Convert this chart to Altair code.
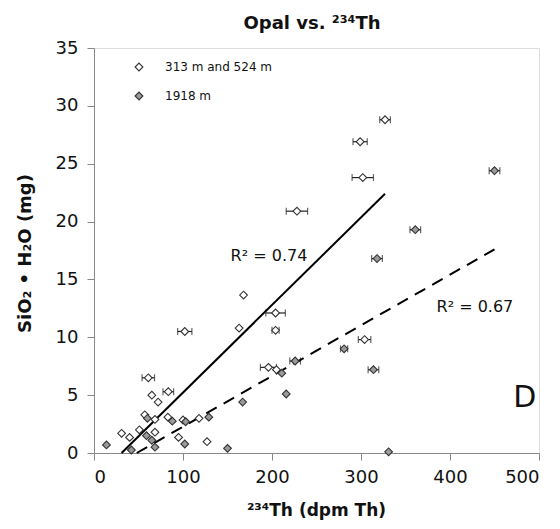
import altair as alt
import pandas as pd

FONT = "DejaVu Sans"
open_label = "313 m and 524 m"
gray_label = "1918 m"
title_text = ["Opal vs. \u00b2\u00b3\u2074Th"]

# 313 m and 524 m (open diamonds)
open_x = [327, 299, 302, 228, 168, 204, 204, 163, 102, 304, 196, 205, 61, 83.5, 65, 72, 57, 68.5, 83, 100, 118, 31, 40, 51, 68.5, 95, 127]
open_y = [28.8, 26.9, 23.8, 20.9, 13.65, 12.1, 10.6, 10.8, 10.5, 9.8, 7.4, 7.2, 6.5, 5.3, 5.0, 4.4, 3.3, 2.9, 3.1, 2.85, 3.0, 1.7, 1.35, 2.0, 1.8, 1.35, 0.98]
open_err = [6, 8, 12, 12, 0, 11, 4, 0, 8, 7, 9, 0, 7, 6, 0, 0, 0, 0, 0, 0, 0, 0, 0, 0, 0, 0, 0]

# 1918 m (gray diamonds)
gray_x = [450, 361, 318, 281, 226, 314, 211, 216, 167, 129, 103, 88, 60, 59, 65, 68.5, 102, 14, 42, 150, 331]
gray_y = [24.4, 19.3, 16.8, 9.0, 7.95, 7.2, 6.9, 5.1, 4.4, 3.1, 2.7, 2.75, 3.0, 1.5, 1.1, 0.5, 0.78, 0.7, 0.26, 0.4, 0.1]
gray_err = [6, 6, 6, 4, 6, 6, 0, 0, 0, 0, 0, 0, 0, 0, 0, 0, 0, 0, 0, 0, 0]

# regression lines
solid_x = [31, 327]
solid_y = [0, 22.4]
dashed_x = [48, 450]
dashed_y = [0, 17.6]

# annotations
r2_text = ["R\u00b2 = 0.74", "R\u00b2 = 0.67"]
r2_x = [196.6, 428]
r2_y = [17.0, 12.6]
panel_text = ["D"]
panel_x = [484]
panel_y = [4.75]

x_ticks = [0, 100, 200, 300, 400, 500]
y_ticks = [0, 5, 10, 15, 20, 25, 30, 35]

pts = pd.DataFrame({
    "x": open_x + gray_x,
    "y": open_y + gray_y,
    "err": open_err + gray_err,
    "series": [open_label] * len(open_x) + [gray_label] * len(gray_x),
})
pts["lo"] = pts["x"] - pts["err"]
pts["hi"] = pts["x"] + pts["err"]
eb = pts[pts["err"] > 0]

xs = alt.Scale(domain=[0, 500], nice=False)
ys = alt.Scale(domain=[0, 35], nice=False)

x_axis = alt.Axis(values=x_ticks, title="\u00b2\u00b3\u2074Th (dpm Th)", titleFont=FONT, titleFontSize=17,
                  titleFontWeight="bold", titleColor="#111", titleX=222, titleY=57,
                  titleBaseline="middle", labelFont=FONT, labelFontSize=18, labelColor="#111",
                  labelPadding=8, tickSize=7, grid=False, format="d")
y_axis = alt.Axis(values=y_ticks, title="SiO\u2082 \u2022 H\u2082O (mg)", titleFont=FONT, titleFontSize=18,
                  titleFontWeight="bold", titleColor="#111", titleX=-69, titleY=205,
                  titleAngle=-90, titleAlign="center", titleBaseline="middle",
                  labelFont=FONT, labelFontSize=18, labelColor="#111", labelPadding=9,
                  tickSize=7, grid=False, format="d")


def X(field):
    return alt.X(field, type="quantitative", scale=xs, axis=x_axis)


def Y(field):
    return alt.Y(field, type="quantitative", scale=ys, axis=y_axis)


bars = alt.Chart(eb).mark_rule(color="#222", strokeWidth=1.2).encode(
    x=X("lo"), x2="hi", y=Y("y"))
cap_lo = alt.Chart(eb).mark_tick(orient="vertical", color="#222", size=7, thickness=1.2).encode(
    x=X("lo"), y=Y("y"))
cap_hi = alt.Chart(eb).mark_tick(orient="vertical", color="#222", size=7, thickness=1.2).encode(
    x=X("hi"), y=Y("y"))

points = alt.Chart(pts).mark_point(shape="diamond", filled=True, size=60, stroke="#333",
                                   strokeWidth=1.1, opacity=1).encode(
    x=X("x"), y=Y("y"),
    fill=alt.Fill("series:N",
                  scale=alt.Scale(domain=[open_label, gray_label], range=["white", "#9a9a9a"]),
                  legend=alt.Legend(title=None, orient="none", legendX=39, legendY=13,
                                    symbolType="diamond", symbolSize=60, symbolStrokeColor="#333",
                                    symbolStrokeWidth=1.1, labelFont=FONT, labelFontSize=12,
                                    labelColor="#111", rowPadding=15, labelOffset=20, padding=0)),
    order=alt.Order("series:N", sort="descending"),
)

solid = alt.Chart(pd.DataFrame({"x": solid_x, "y": solid_y})).mark_line(
    color="black", strokeWidth=2).encode(x=X("x"), y=Y("y"))
dashed = alt.Chart(pd.DataFrame({"x": dashed_x, "y": dashed_y})).mark_line(
    color="black", strokeWidth=2, strokeDash=[12, 8]).encode(x=X("x"), y=Y("y"))

r2 = alt.Chart(pd.DataFrame({"x": r2_x, "y": r2_y, "t": r2_text})).mark_text(
    font=FONT, fontSize=16, color="#111", align="center", baseline="middle").encode(
    x=X("x"), y=Y("y"), text="t:N")
panel = alt.Chart(pd.DataFrame({"x": panel_x, "y": panel_y, "t": panel_text})).mark_text(
    font=FONT, fontSize=30, color="#111", align="center", baseline="middle").encode(
    x=X("x"), y=Y("y"), text="t:N")

title = alt.Chart(pd.DataFrame({"t": title_text})).mark_text(
    font=FONT, fontSize=18, fontWeight="bold", color="#111", align="center",
    baseline="alphabetic").encode(x=alt.value(218), y=alt.value(-19), text="t:N")

chart = alt.layer(bars, cap_lo, cap_hi, solid, dashed, points, r2, panel, title).properties(
    width=445, height=405,
    autosize=alt.AutoSizeParams(type="none"),
    padding={"left": 86, "top": 40, "right": 13, "bottom": 68},
).configure_view(stroke="black", strokeWidth=1.5).configure_axis(
    domainColor="black", domainWidth=2, tickColor="black", tickWidth=2
).configure(background="white")

chart.save("out.html", embed_options={"renderer": "svg", "actions": False})
